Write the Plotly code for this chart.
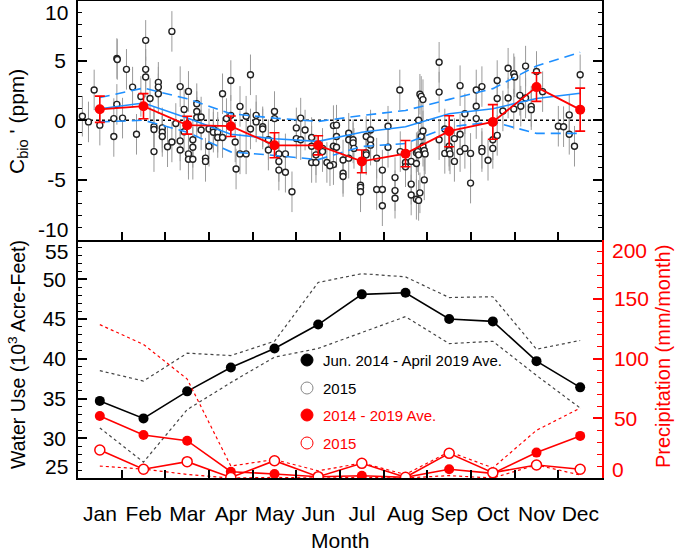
import plotly.graph_objects as go

# ---------------- data ----------------
months = ["Jan", "Feb", "Mar", "Apr", "May", "Jun", "Jul", "Aug", "Sep", "Oct", "Nov", "Dec"]
month_pos = [0.5, 1.5, 2.5, 3.5, 4.5, 5.5, 6.5, 7.5, 8.5, 9.5, 10.5, 11.5]
month_start = [0, 1, 2, 3, 4, 5, 6, 7, 8, 9, 10, 11]

# individual C_bio' observations (x = fractional month, y = ppm)
cbio_x = [0.10, 0.24, 0.37, 0.50, 0.82, 0.82, 0.89, 0.90, 0.89, 1.02, 1.11, 1.25, 1.34, 1.44, 1.55, 1.55, 1.55, 1.65,
          1.74, 1.74, 1.74, 1.84, 1.84, 1.84, 1.93, 1.93, 1.93, 2.05, 2.15, 2.15, 2.24, 2.34, 2.34, 2.34, 2.43, 2.43,
          2.53, 2.53, 2.53, 2.63, 2.63, 2.63, 2.72, 2.72, 2.72, 2.82, 2.82, 2.92, 2.92, 3.00, 3.00, 3.10, 3.10, 3.20,
          3.20, 3.31, 3.31, 3.40, 3.50, 3.50, 3.60, 3.62, 3.71, 3.71, 3.85, 3.85, 3.95, 3.95, 4.08, 4.08, 4.23, 4.23,
          4.36, 4.36, 4.50, 4.50, 4.60, 4.60, 4.60, 4.75, 4.75, 4.90, 5.00, 5.00, 5.10, 5.10, 5.20, 5.35, 5.35, 5.35,
          5.45, 5.45, 5.60, 5.60, 5.70, 5.85, 5.85, 5.85, 5.77, 5.92, 5.92, 5.92, 6.07, 6.07, 6.07, 6.20, 6.20, 6.20,
          6.30, 6.30, 6.32, 6.47, 6.47, 6.47, 6.60, 6.60, 6.60, 6.70, 6.70, 6.70, 6.84, 6.84, 6.97, 6.97, 6.97, 7.10,
          7.10, 7.26, 7.26, 7.26, 7.37, 7.38, 7.50, 7.50, 7.63, 7.63, 7.63, 7.75, 7.75, 7.78, 7.80, 7.75, 7.80, 7.80,
          7.83, 7.83, 7.86, 7.90, 7.86, 7.90, 7.90, 7.93, 7.95, 7.93, 8.27, 8.27, 8.27, 8.40, 8.40, 8.50, 8.50, 8.52,
          8.62, 8.62, 8.75, 8.75, 8.75, 8.86, 8.86, 8.99, 8.99, 9.12, 9.12, 9.12, 9.25, 9.25, 9.25, 9.39, 9.50, 9.50,
          9.60, 9.60, 9.60, 9.73, 9.85, 9.85, 9.98, 10.00, 9.98, 10.12, 10.14, 10.25, 10.25, 10.38, 10.38, 10.50,
          10.64, 11.00, 11.12, 11.25, 11.25, 11.37, 11.50]
cbio_y = [0.34, -0.14, 2.54, -0.41, -1.36, 0.14, 5.18, 5.10, 1.33, 0.18, 4.27, 2.78, -1.18, 2.00, 6.70, 4.27, 3.63, 1.82,
          -0.55, -0.77, -2.63, 3.18, 2.78, 2.22, -0.64, -1.00, -1.36, -2.22, 7.45, -1.82, -0.27, 2.82, -1.73, -2.50, 0.91, -0.97,
          2.42, -2.82, -3.27, -1.63, -2.27, -3.27, 1.39, 0.73, 0.23, 0.27, -0.82, -3.18, -3.45, -0.73, -2.18, -0.73, -1.00, -1.00,
          -1.45, 2.22, -1.45, 0.14, 3.33, 0.41, -1.82, -4.09, 1.16, -2.82, -2.82, 0.34, 3.81, -0.73, 0.41, -0.14, -0.55, -0.73,
          -1.63, -2.50, 0.73, 0.14, -2.82, -3.45, -4.18, -2.82, -4.36, -6.00, -0.64, -1.54, 0.18, -1.63, -0.82, -1.45, -2.18, -3.54,
          -3.54, -2.90, -2.36, -2.63, -3.54, -0.45, -2.18, -3.72, -3.81, -0.41, -1.36, -2.27, -3.33, -4.45, -4.72, -1.63, -1.09, -3.18,
          -1.63, -1.90, -2.36, -5.45, -5.63, -6.00, -1.36, -2.72, -2.90, -1.63, -2.09, -0.82, -3.18, -5.81, -4.18, -5.81, -7.17, -0.50,
          -2.27, -4.81, -5.90, -6.54, 2.54, -2.63, -3.54, -3.90, -5.36, -6.27, -3.45, -3.63, -2.72, -2.63, -2.90, -6.63, -6.72, 0.00,
          -6.09, 2.18, 2.00, 1.73, -1.36, -0.90, -2.18, -2.54, -2.82, -5.00, 4.86, 2.36, -1.63, -2.78, -0.73, -2.18, -2.54, -2.82,
          -3.45, -1.54, 2.90, -2.63, -1.18, 0.54, -2.36, -2.78, -5.27, 2.54, 1.18, 0.14, 2.82, -2.36, -2.63, -3.36, -1.63, -2.36,
          3.33, 1.82, -1.27, 0.78, 4.36, 1.87, 3.90, 3.63, 0.94, 2.09, 1.18, 4.54, 1.87, 1.16, 0.89, 4.09,
          2.40, -0.50, -0.54, 0.45, -1.18, -2.18, 3.81]
cbio_err = 1.7

# monthly mean C_bio' and its uncertainty
cbio_mon = [0.92, 1.18, -0.41, -0.50, -2.10, -2.10, -3.45, -2.80, -0.92, -0.14, 2.78, 0.89]
cbio_mon_err = [1.10, 1.05, 0.75, 0.86, 1.05, 0.80, 0.95, 1.10, 1.30, 1.45, 1.20, 1.80]

# blue curve (solid) and its envelope (dashed)
blue_mid = [0.97, 1.45, 0.18, -1.18, -1.55, -1.77, -1.00, -0.55, 0.55, 0.97, 1.82, 2.27]
blue_hi = [1.90, 2.70, 1.80, 0.55, 0.18, -0.10, 0.40, 0.82, 1.75, 2.65, 4.55, 5.70]
blue_lo = [-0.14, 0.00, -1.00, -2.65, -2.95, -3.30, -2.20, -1.95, -0.55, -0.14, -1.10, -1.10]

# water use (10^3 acre-feet)
water_avg = [34.7, 32.5, 35.9, 38.9, 41.3, 44.3, 48.1, 48.3, 45.0, 44.7, 39.7, 36.4]
water_hi = [38.5, 37.2, 40.7, 40.4, 42.2, 49.6, 50.7, 50.3, 47.7, 47.8, 41.2, 42.3]
water_lo = [31.3, 27.0, 33.6, 37.0, 40.2, 41.3, 43.3, 45.3, 41.9, 42.2, 37.9, 33.8]

# precipitation (mm/month)
precip_avg = [52.0, 36.0, 31.3, 5.3, 3.4, 1.1, 1.9, 0.6, 7.3, 3.9, 21.3, 35.3]
precip_2015 = [23.5, 7.3, 13.7, 0.5, 14.5, 1.1, 12.3, 0.6, 20.7, 4.5, 10.9, 7.3]
precip_hi = [128.6, 112.0, 83.0, 10.0, 15.5, 6.0, 12.5, 3.0, 22.0, 8.5, 40.0, 58.6]
precip_lo = [10.0, 7.5, 3.0, 0.0, 0.5, 0.0, 0.5, 0.0, 2.0, 0.0, 11.0, 2.5]

legend_labels = ["Jun. 2014 - April 2019 Ave.", "2015", "2014 - 2019 Ave.", "2015"]

# ---------------- figure ----------------
FONT = "Liberation Sans, Arial, Helvetica, sans-serif"
RED = "#ff0000"
BLUE = "#1e8fff"

fig = go.Figure()

# --- top panel ---
fig.add_trace(go.Scatter(
    x=cbio_x, y=cbio_y, mode="markers", xaxis="x", yaxis="y",
    marker=dict(symbol="circle", size=6, color="white", line=dict(color="#222222", width=1.4)),
    error_y=dict(type="constant", value=cbio_err, color="#9a9a9a", thickness=1, width=0),
    showlegend=False))
for arr, dash in [(blue_hi, "dash"), (blue_lo, "dash"), (blue_mid, "solid")]:
    fig.add_trace(go.Scatter(
        x=month_pos, y=arr, mode="lines", xaxis="x", yaxis="y",
        line=dict(color=BLUE, width=1.6, dash="10px,6px" if dash == "dash" else "solid"),
        showlegend=False))
fig.add_trace(go.Scatter(
    x=month_pos, y=cbio_mon, mode="lines+markers", xaxis="x", yaxis="y",
    line=dict(color=RED, width=1.8),
    marker=dict(size=10, color=RED),
    error_y=dict(type="data", array=cbio_mon_err, color=RED, thickness=1.6, width=5),
    showlegend=False))

# --- bottom panel: water use ---
for arr in [water_hi, water_lo]:
    fig.add_trace(go.Scatter(
        x=month_pos, y=arr, mode="lines", xaxis="x2", yaxis="y2",
        line=dict(color="#444444", width=1.2, dash="dot"), showlegend=False))
fig.add_trace(go.Scatter(
    x=month_pos, y=water_avg, mode="lines+markers", xaxis="x2", yaxis="y2",
    line=dict(color="black", width=1.6), marker=dict(size=10, color="black"),
    showlegend=False))

# --- bottom panel: precipitation ---
for arr in [precip_hi, precip_lo]:
    fig.add_trace(go.Scatter(
        x=month_pos, y=arr, mode="lines", xaxis="x2", yaxis="y3",
        line=dict(color=RED, width=1.2, dash="dot"), showlegend=False))
fig.add_trace(go.Scatter(
    x=month_pos, y=precip_avg, mode="lines+markers", xaxis="x2", yaxis="y3",
    line=dict(color=RED, width=1.6), marker=dict(size=10, color=RED),
    showlegend=False))
fig.add_trace(go.Scatter(
    x=month_pos, y=precip_2015, mode="lines+markers", xaxis="x2", yaxis="y3",
    line=dict(color=RED, width=1.6),
    marker=dict(size=10, color="white", line=dict(color=RED, width=1.5)),
    showlegend=False))

# zero line in top panel
shapes = [dict(type="line", xref="x", yref="y", x0=0, x1=12, y0=0, y1=0,
               line=dict(color="black", width=1.6, dash="dot"), layer="below")]

# legend glyphs (pixel-sized circles anchored in paper space)
L, W, B, H = 78, 524, 73, 477
def px_x(p):
    return (p - L) / W
def px_y(p):
    return (551 - B - p) / H

leg_rows = [360, 388, 415, 443]
leg_style = [("black", "black", 12), ("white", "#888888", 12), (RED, RED, 12), ("white", RED, 12)]
for yy, (fc, lc, sz) in zip(leg_rows, leg_style):
    shapes.append(dict(type="circle", xref="paper", yref="paper", xsizemode="pixel", ysizemode="pixel",
                       xanchor=px_x(307), yanchor=px_y(yy), x0=-sz / 2, x1=sz / 2, y0=-sz / 2, y1=sz / 2,
                       fillcolor=fc, line=dict(color=lc, width=1)))

annotations = []
leg_colors = ["black", "black", RED, RED]
for yy, txt, col in zip(leg_rows, legend_labels, leg_colors):
    annotations.append(dict(x=px_x(321), y=px_y(yy), xref="paper", yref="paper", text=txt,
                            showarrow=False, xanchor="left", yanchor="middle",
                            font=dict(family=FONT, size=15, color=col)))

# end tick labels (shifted inward, as in the original)
for txt, py, px, col, anchor in [("10", 13, 70, "black", "right"), ("-10", 229, 70, "black", "right"),
                                 ("55", 251, 70, "black", "right"), ("25", 466, 70, "black", "right"),
                                 ("200", 250, 610, RED, "left"), ("0", 469, 610, RED, "left")]:
    annotations.append(dict(x=px_x(px), y=px_y(py), xref="paper", yref="paper", text=txt, showarrow=False,
                            xanchor=anchor, yanchor="middle", font=dict(family=FONT, size=21, color=col)))

# axis titles
annotations.append(dict(x=px_x(18), y=px_y(122), xref="paper", yref="paper", textangle=-90,
                        text="C<sub>bio</sub> ' (ppm)", showarrow=False, xanchor="center", yanchor="middle",
                        font=dict(family=FONT, size=21, color="black")))
annotations.append(dict(x=px_x(17), y=px_y(355), xref="paper", yref="paper", textangle=-90,
                        text="Water Use (10<sup>3</sup> Acre-Feet)", showarrow=False, xanchor="center",
                        yanchor="middle", font=dict(family=FONT, size=19.5, color="black")))
annotations.append(dict(x=px_x(663), y=px_y(357), xref="paper", yref="paper", textangle=-90,
                        text="Precipitation (mm/month)", showarrow=False, xanchor="center",
                        yanchor="middle", font=dict(family=FONT, size=20, color=RED)))
annotations.append(dict(x=px_x(340), y=px_y(540), xref="paper", yref="paper",
                        text="Month", showarrow=False, xanchor="center",
                        yanchor="middle", font=dict(family=FONT, size=21, color="black")))

tickfont = dict(family=FONT, size=21, color="black")
half_month_px = int(round(W / 24.0))

fig.update_layout(
    template="none",
    width=677, height=551,
    margin=dict(l=L, r=677 - L - W, t=551 - B - H, b=B, autoexpand=False),
    paper_bgcolor="white", plot_bgcolor="white",
    showlegend=False,
    xaxis=dict(domain=[0, 1], anchor="y", range=[0, 12], showticklabels=False, automargin=False,
               tickvals=month_start[1:], ticks="inside", ticklen=8, tickwidth=1.5, tickcolor="black",
               showgrid=False, zeroline=False,
               showline=True, linecolor="black", linewidth=1.5, mirror=True),
    yaxis=dict(domain=[0.5, 1], anchor="x", range=[-10, 10], automargin=False,
               tickvals=[-5, 0, 5], ticktext=["-5", "0", "5"],
               ticks="inside", ticklen=9, tickwidth=1.5, tickcolor="black",
               minor=dict(ticks="inside", dtick=1, ticklen=4, tickwidth=1.2, tickcolor="black", showgrid=False),
               showgrid=False, zeroline=False, showline=True, linecolor="black", linewidth=1.5,
               mirror="allticks", tickfont=tickfont, ticklabelstandoff=6),
    xaxis2=dict(domain=[0, 1], anchor="y2", range=[0, 12], tickvals=month_start, ticktext=months,
                ticklabelshift=half_month_px, automargin=False,
                ticks="inside", ticklen=8, tickwidth=1.5, tickcolor="black",
                showgrid=False, zeroline=False, showline=True, linecolor="black", linewidth=1.5,
                tickfont=tickfont, ticklabelstandoff=16),
    yaxis2=dict(domain=[0, 0.5], anchor="x2", range=[25, 55], automargin=False,
                tickvals=[30, 35, 40, 45, 50], ticktext=["30", "35", "40", "45", "50"],
                ticks="inside", ticklen=9, tickwidth=1.5, tickcolor="black",
                minor=dict(ticks="inside", dtick=1, ticklen=4, tickwidth=1.2, tickcolor="black", showgrid=False),
                showgrid=False, zeroline=False, showline=True, linecolor="black", linewidth=1.5,
                tickfont=tickfont, ticklabelstandoff=6),
    yaxis3=dict(overlaying="y2", anchor="x2", side="right", range=[0, 200], automargin=False,
                tickvals=[50, 100, 150], ticktext=["50", "100", "150"],
                ticks="inside", ticklen=9, tickwidth=1.5, tickcolor=RED,
                minor=dict(ticks="inside", dtick=10, ticklen=5, tickwidth=1.2, tickcolor=RED, showgrid=False),
                showgrid=False, zeroline=False, showline=True, linecolor=RED, linewidth=1.5,
                tickfont=dict(family=FONT, size=21, color=RED), ticklabelstandoff=6),
    shapes=shapes,
    annotations=annotations,
)

fig.write_html(
    "out.html",
    config={"displayModeBar": False},
    post_script="document.body.style.margin='0px';document.body.style.overflow='hidden';",
)
